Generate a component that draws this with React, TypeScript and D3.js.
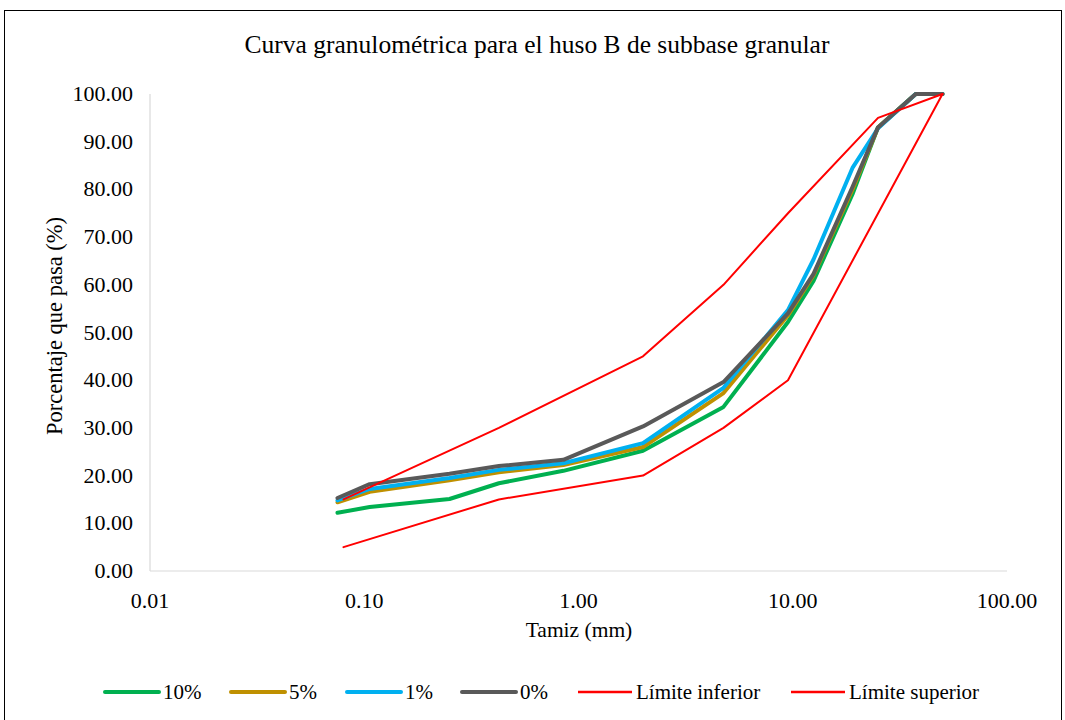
import React from "react";
import * as d3 from "d3";

const sieves = [0.075, 0.106, 0.25, 0.425, 0.85, 2.0, 4.75, 9.5, 12.5, 19, 25, 37.5, 50];
const s10 = [12.2, 13.4, 15.1, 18.4, 21.0, 25.2, 34.4, 52.2, 60.8, 79.0, 93.0, 100, 100];
const s5 = [14.4, 16.6, 19.0, 20.7, 22.2, 26.0, 37.3, 53.6, 62.0, 80.0, 93.0, 100, 100];
const s1 = [14.8, 17.2, 19.5, 21.2, 22.6, 26.8, 38.4, 54.7, 65.3, 84.5, 92.8, 100, 100];
const s0 = [15.3, 18.2, 20.4, 22.0, 23.3, 30.3, 39.6, 54.0, 62.3, 80.5, 93.0, 100, 100];
const limInfSieves = [0.08, 0.425, 2.0, 4.75, 9.5, 50];
const limInf = [5, 15, 20, 30, 40, 100];
const limSupSieves = [0.08, 0.425, 2.0, 4.75, 9.5, 25, 50];
const limSup = [15, 30, 45, 60, 75, 95, 100];
const yTicks = [0, 10, 20, 30, 40, 50, 60, 70, 80, 90, 100];
const xTicks = [0.01, 0.1, 1, 10, 100];

const series = [
  { name: "10%", xs: sieves, ys: s10, color: "#00B050", w: 4 },
  { name: "5%", xs: sieves, ys: s5, color: "#BF9000", w: 4 },
  { name: "1%", xs: sieves, ys: s1, color: "#00B0F0", w: 4 },
  { name: "0%", xs: sieves, ys: s0, color: "#595959", w: 4 },
  { name: "Límite inferior", xs: limInfSieves, ys: limInf, color: "#FF0000", w: 2 },
  { name: "Límite superior", xs: limSupSieves, ys: limSup, color: "#FF0000", w: 2 },
];

export default function App() {
  const x = d3.scaleLog().domain([0.01, 100]).range([150, 1007]);
  const y = d3.scaleLinear().domain([0, 100]).range([571, 94]);
  const font = "Liberation Serif, Times New Roman, DejaVu Serif, serif";
  const legendX = [105, 231, 347, 462, 578, 791];

  const mk = (xs: number[], ys: number[]) =>
    d3.line<number>().x((_, i) => x(xs[i])).y((d) => y(d))(ys) || "";

  return (
    <svg width={1065} height={720} style={{ position: "absolute", left: 0, top: 0, background: "#fff", fontFamily: font }}>
      <rect x={0} y={0} width={1065} height={720} fill="#fff" />
      <rect x={4.5} y={10.5} width={1057} height={720} fill="none" stroke="#000" strokeWidth={1} />
      <text x={537} y={53} textAnchor="middle" fontSize={25.5} fill="#000">
        Curva granulométrica para el huso B de subbase granular
      </text>
      <line x1={150} x2={150} y1={94} y2={571} stroke="#d9d9d9" strokeWidth={1.2} />
      <line x1={150} x2={1007} y1={571} y2={571} stroke="#d9d9d9" strokeWidth={1.2} />
      {yTicks.map((t) => (
        <text key={t} x={133} y={y(t) + 7} textAnchor="end" fontSize={22} fill="#000">
          {d3.format(".2f")(t)}
        </text>
      ))}
      {xTicks.map((t) => (
        <text key={t} x={x(t)} y={608} textAnchor="middle" fontSize={22} fill="#000">
          {d3.format(".2f")(t)}
        </text>
      ))}
      <text x={579} y={637} textAnchor="middle" fontSize={21.5} fill="#000">Tamiz (mm)</text>
      <text transform={`translate(62,326) rotate(-90)`} textAnchor="middle" fontSize={22.5} fill="#000">
        Porcentaje que pasa (%)
      </text>
      {series.map((s) => (
        <path key={s.name} d={mk(s.xs, s.ys)} fill="none" stroke={s.color} strokeWidth={s.w} strokeLinejoin="round" strokeLinecap="round" />
      ))}
      {series.map((s, i) => (
        <g key={"lg" + s.name}>
          <line x1={legendX[i]} x2={legendX[i] + 54} y1={692} y2={692} stroke={s.color} strokeWidth={s.w === 4 ? 4 : 2.5} strokeLinecap={s.w === 4 ? "round" : "butt"} />
          <text x={legendX[i] + 58} y={699} fontSize={21} fill="#000">{s.name}</text>
        </g>
      ))}
    </svg>
  );
}
